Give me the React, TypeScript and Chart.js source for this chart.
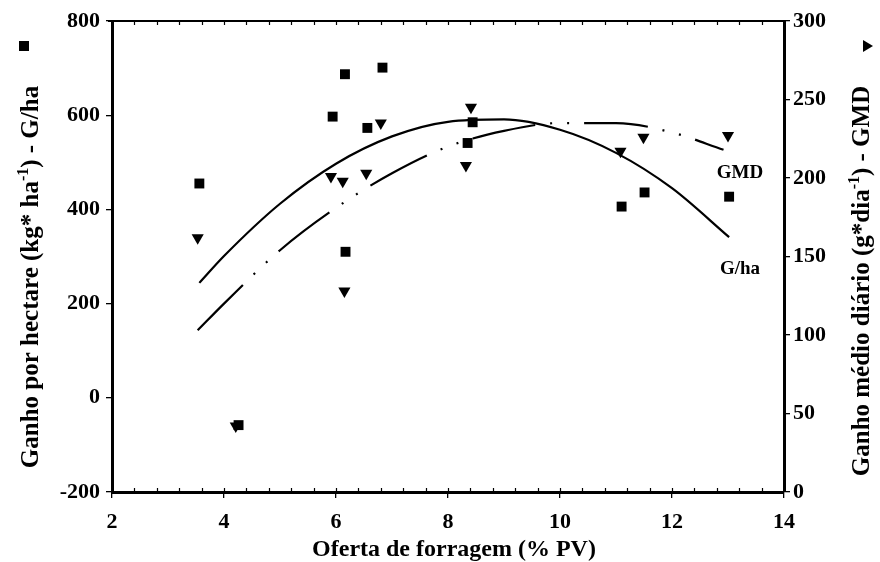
import React, { useEffect, useRef } from "react";
import { Chart, registerables } from "chart.js";

Chart.register(...registerables);

// Observed points: Ganho por hectare (G/ha, left axis)
const ghaX = [3.56, 4.26, 5.94, 6.16, 6.17, 6.56, 6.83, 8.35, 8.44, 11.1, 11.51, 13.02];
const ghaY = [455, -58, 597, 687, 310, 573, 701, 541, 585, 406, 436, 427];

// Observed points: Ganho médio diário (GMD, right axis)
const gmdX = [3.53, 4.21, 5.91, 6.12, 6.15, 6.54, 6.8, 8.32, 8.41, 11.08, 11.49, 13.0];
const gmdY = [162, 42, 201, 198, 128, 203, 235, 208, 245, 217, 226, 227];

// Fitted curves
const ghaFitX = [3.56, 4, 5, 6, 7, 8, 9, 10, 11, 12, 13.02];
const ghaFitY = [244, 301, 412, 497, 555, 586, 591, 569, 520, 445, 341];
const gmdFitX = [3.53, 4, 5, 6, 7, 8, 9, 10, 11, 12, 12.92];
const gmdFitY = [103, 120, 154, 181, 203, 220, 230, 235, 235, 229, 218];

// Axis ranges / ticks
const xTicks = [2, 4, 6, 8, 10, 12, 14];
const leftTicks = [-200, 0, 200, 400, 600, 800];
const rightTicks = [0, 50, 100, 150, 200, 250, 300];

// Texts
const xTitle = "Oferta de forragem (% PV)";
const leftTitle = ["Ganho por hectare (kg* ha", "-1", ") - G/ha"];
const rightTitle = ["Ganho médio diário (g*dia", "-1", ") - GMD"];
const curveLabels = [
  { text: "GMD", x: 13.0, y: 204, axis: "y2" },
  { text: "G/ha", x: 13.0, y: 276, axis: "y" },
];

const FONT = "'Liberation Serif', 'Times New Roman', serif";

const zip = (xs: number[], ys: number[]) => xs.map((x, i) => ({ x, y: ys[i] }));

function drawRotatedTitle(
  ctx: CanvasRenderingContext2D,
  parts: string[],
  cx: number,
  cy: number,
  size: number
) {
  const mainFont = `bold ${size}px ${FONT}`;
  const supFont = `bold ${Math.round(size * 0.62)}px ${FONT}`;
  ctx.save();
  ctx.font = mainFont;
  const w0 = ctx.measureText(parts[0]).width;
  const w2 = ctx.measureText(parts[2]).width;
  ctx.font = supFont;
  const w1 = ctx.measureText(parts[1]).width;
  const total = w0 + w1 + w2;
  ctx.translate(cx, cy);
  ctx.rotate(-Math.PI / 2);
  ctx.fillStyle = "#000";
  ctx.textBaseline = "alphabetic";
  ctx.textAlign = "left";
  let x = -total / 2;
  ctx.font = mainFont;
  ctx.fillText(parts[0], x, 0);
  x += w0;
  ctx.font = supFont;
  ctx.fillText(parts[1], x, -size * 0.42);
  x += w1;
  ctx.font = mainFont;
  ctx.fillText(parts[2], x, 0);
  ctx.restore();
}

const decorPlugin = {
  id: "decor",
  afterDraw(chart: any) {
    const { ctx, chartArea, scales } = chart;
    const { left, right, top, bottom } = chartArea;
    const xs = scales.x;
    ctx.save();
    ctx.strokeStyle = "#000";
    // top border
    ctx.lineWidth = 2;
    ctx.beginPath();
    ctx.moveTo(left - 4, top);
    ctx.lineTo(right + 1, top);
    ctx.stroke();
    // minor ticks inside (top and bottom)
    ctx.lineWidth = 1.2;
    for (let i = 1; i < 30; i++) {
      const v = 2 + i * 0.4;
      const px = Math.round(xs.getPixelForValue(v)) + 0.5;
      ctx.beginPath();
      ctx.moveTo(px, bottom);
      ctx.lineTo(px, bottom - 4);
      ctx.moveTo(px, top);
      ctx.lineTo(px, top + 4);
      ctx.stroke();
    }
    // x title
    ctx.fillStyle = "#000";
    ctx.font = `bold 24px ${FONT}`;
    ctx.textAlign = "center";
    ctx.textBaseline = "middle";
    ctx.fillText(xTitle, (left + right) / 2 + 6, 550);
    // y titles
    drawRotatedTitle(ctx, leftTitle, 38, 277, 25);
    drawRotatedTitle(ctx, rightTitle, 869, 281, 25);
    // legend markers
    ctx.fillRect(19, 41, 10, 10);
    ctx.beginPath();
    ctx.moveTo(863, 40);
    ctx.lineTo(873, 46);
    ctx.lineTo(863, 52);
    ctx.closePath();
    ctx.fill();
    // curve labels
    ctx.font = `bold 19px ${FONT}`;
    ctx.textAlign = "center";
    ctx.textBaseline = "middle";
    for (const l of curveLabels) {
      const px = xs.getPixelForValue(l.x);
      const py = scales[l.axis].getPixelForValue(l.y);
      ctx.fillText(l.text, px + 12, py + 1);
    }
    ctx.restore();
  },
};

export default function App() {
  const ref = useRef<HTMLCanvasElement | null>(null);
  useEffect(() => {
    document.body.style.margin = "0";
    const canvas = ref.current;
    if (!canvas) return;
    const tickFont = { family: FONT, size: 22, weight: "bold" as const };
    const grid = {
      display: true,
      drawOnChartArea: false,
      drawTicks: true,
      tickLength: 6,
      color: "#000",
      lineWidth: 1.3,
    };
    const border = { display: true, color: "#000", width: 3 };
    const chart = new Chart(canvas, {
      type: "scatter",
      data: {
        datasets: [
          {
            type: "line",
            label: "G/ha ajuste",
            data: zip(ghaFitX, ghaFitY),
            yAxisID: "y",
            borderColor: "#000",
            borderWidth: 2.2,
            pointRadius: 0,
            fill: false,
            cubicInterpolationMode: "monotone",
          } as any,
          {
            type: "line",
            label: "GMD ajuste",
            data: zip(gmdFitX, gmdFitY),
            yAxisID: "y2",
            borderColor: "#000",
            borderWidth: 2.2,
            borderDash: [64, 15, 2, 15, 2, 15],
            pointRadius: 0,
            fill: false,
            cubicInterpolationMode: "monotone",
          } as any,
          {
            label: "G/ha",
            data: zip(ghaX, ghaY),
            yAxisID: "y",
            pointStyle: "rect",
            pointRadius: 7,
            backgroundColor: "#000",
            borderColor: "#000",
            borderWidth: 0,
          },
          {
            label: "GMD",
            data: zip(gmdX, gmdY),
            yAxisID: "y2",
            pointStyle: "triangle",
            rotation: 180,
            pointRadius: 7,
            backgroundColor: "#000",
            borderColor: "#000",
            borderWidth: 0,
          },
        ],
      },
      options: {
        responsive: false,
        animation: false,
        events: [],
        layout: { padding: { top: 21, left: 0, right: 0, bottom: 0 } },
        plugins: { legend: { display: false }, tooltip: { enabled: false }, title: { display: false } },
        scales: {
          x: {
            type: "linear",
            min: 2,
            max: 14,
            afterBuildTicks: (s: any) => {
              s.ticks = xTicks.map((v) => ({ value: v }));
            },
            afterFit: (s: any) => {
              s.height = 70;
            },
            ticks: { font: tickFont, color: "#000", padding: 11, maxRotation: 0 },
            grid,
            border,
          },
          y: {
            type: "linear",
            position: "left",
            min: -200,
            max: 800,
            afterBuildTicks: (s: any) => {
              s.ticks = leftTicks.map((v) => ({ value: v }));
            },
            afterFit: (s: any) => {
              s.width = 112;
            },
            ticks: { font: tickFont, color: "#000", padding: 6 },
            grid,
            border,
          },
          y2: {
            type: "linear",
            position: "right",
            min: 0,
            max: 300,
            afterBuildTicks: (s: any) => {
              s.ticks = rightTicks.map((v) => ({ value: v }));
            },
            afterFit: (s: any) => {
              s.width = 96;
            },
            ticks: { font: tickFont, color: "#000", padding: 3 },
            grid,
            border,
          },
        },
      },
      plugins: [decorPlugin],
    });
    return () => chart.destroy();
  }, []);
  return (
    <div style={{ position: "absolute", left: 0, top: 0, width: 880, height: 562, background: "#fff" }}>
      <canvas ref={ref} width={880} height={562} style={{ width: 880, height: 562, display: "block" }} />
    </div>
  );
}
